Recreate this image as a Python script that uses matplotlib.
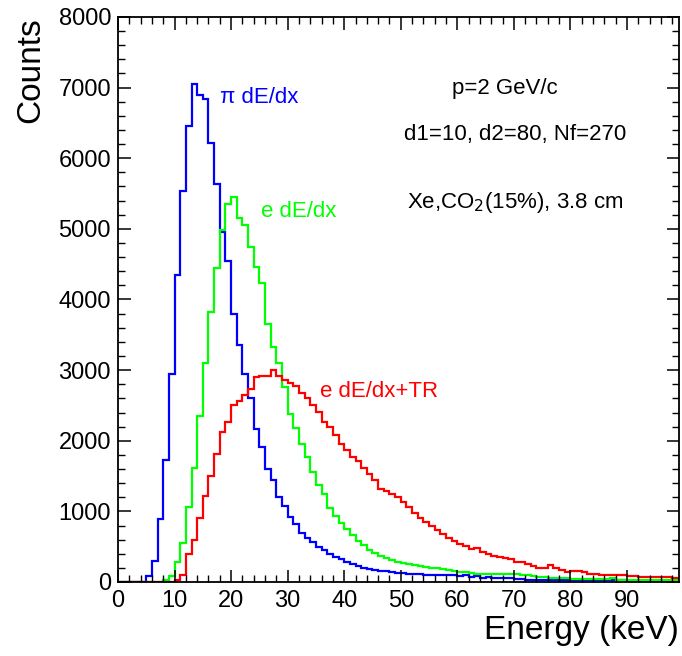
import matplotlib
matplotlib.use("Agg")
import matplotlib.pyplot as plt
import numpy as np
from matplotlib.ticker import MultipleLocator

plt.rcParams['font.family'] = ['Liberation Sans', 'DejaVu Sans']

# bin edges: 1 keV bins from 0 to 100 keV
edges = np.arange(0, 101, 1)

# pion dE/dx counts per bin (bins 0..99)
pi_dedx = [0, 0, 0, 0, 0, 80, 300, 890, 1730, 2950,
           4340, 5540, 6460, 7050, 6900, 6840, 6220, 5640, 4960, 4540,
           3790, 3360, 2940, 2610, 2160, 1910, 1600, 1450, 1200, 1080,
           915, 820, 700, 620, 570, 500, 450, 400, 360, 320,
           280, 250, 220, 200, 185, 175, 160, 150, 135, 128,
           122, 118, 112, 110, 105, 102, 100, 98, 96, 95,
           85, 105, 65, 80, 60, 70, 55, 52, 50, 50,
           48, 46, 35, 32, 30, 30, 30, 28, 28, 28,
           26, 26, 25, 25, 25, 24, 24, 22, 22, 22,
           20, 20, 20, 20, 20, 18, 18, 18, 25, 18]

# electron dE/dx
e_dedx = [0, 0, 0, 0, 0, 0, 0, 0, 30, 80,
          290, 550, 1060, 1620, 2350, 3100, 3820, 4440, 4990, 5350,
          5450, 5150, 5050, 4740, 4460, 4230, 3660, 3330, 3100, 2760,
          2380, 2180, 1960, 1770, 1560, 1370, 1250, 1050, 940, 840,
          750, 660, 580, 520, 460, 410, 370, 340, 310, 290,
          270, 250, 240, 230, 215, 205, 195, 180, 170, 160,
          140, 135, 130, 120, 120, 115, 110, 120, 115, 110,
          110, 100, 100, 90, 70, 65, 60, 55, 50, 50,
          45, 40, 40, 40, 40, 40, 40, 50, 35, 35,
          35, 35, 35, 35, 35, 30, 30, 30, 30, 30]

# electron dE/dx + TR
e_dedx_tr = [0, 0, 0, 0, 0, 0, 0, 0, 0, 0,
             30, 100, 400, 600, 900, 1220, 1500, 1810, 2120, 2260,
             2500, 2560, 2650, 2730, 2900, 2920, 2920, 3000, 2910, 2860,
             2820, 2770, 2670, 2600, 2510, 2410, 2270, 2200, 2080, 1960,
             1870, 1770, 1710, 1620, 1530, 1440, 1320, 1290, 1250, 1200,
             1130, 1060, 970, 900, 850, 790, 740, 680, 630, 580,
             540, 510, 470, 480, 420, 400, 375, 360, 340, 320,
             290, 280, 255, 225, 205, 200, 240, 200, 170, 140,
             160, 155, 140, 120, 110, 100, 100, 100, 95, 95,
             80, 80, 75, 75, 70, 70, 65, 65, 60, 60]

fig = plt.figure(figsize=(6.82, 6.56), dpi=100)
ax = fig.add_axes([118/682, 74/656, (679-118)/682, (582-17)/656])

ax.stairs(pi_dedx, edges, color='#0000ff', lw=1.6)
ax.stairs(e_dedx, edges, color='#00ff00', lw=1.6)
ax.stairs(e_dedx_tr, edges, color='#ff0000', lw=1.6)

ax.set_xlim(0, 99.2)
ax.set_ylim(0, 8000)
ax.xaxis.set_major_locator(MultipleLocator(10))
ax.xaxis.set_minor_locator(MultipleLocator(2))
ax.yaxis.set_major_locator(MultipleLocator(1000))
ax.yaxis.set_minor_locator(MultipleLocator(200))
ax.tick_params(which='both', direction='in', top=True, right=True, labelsize=17)
ax.tick_params(which='major', length=9, width=1.1)
ax.tick_params(which='minor', length=5, width=1.0)
ax.tick_params(axis='y', pad=5)
ax.tick_params(axis='x', pad=6)
for s in ax.spines.values():
    s.set_linewidth(1.3)

ax.set_ylabel('Counts', fontsize=24)
ax.yaxis.set_label_coords(-0.128, 1.0)
ax.yaxis.label.set_ha('right')
ax.set_xlabel('Energy (keV)', fontsize=24)
ax.xaxis.set_label_coords(1.0, -0.058)
ax.xaxis.label.set_ha('right')

ax.text(18.0, 6860, 'π dE/dx', color='#0000ff', fontsize=16, ha='left', va='center')
ax.text(25.3, 5250, 'e dE/dx', color='#00ff00', fontsize=16, ha='left', va='center')
ax.text(35.8, 2700, 'e dE/dx+TR', color='#ff0000', fontsize=16, ha='left', va='center')

ax.text(68.4, 6990, 'p=2 GeV/c', fontsize=16, ha='center', va='center')
ax.text(70.3, 6330, 'd1=10, d2=80, Nf=270', fontsize=16, ha='center', va='center')
ax.text(70.3, 5380, r'Xe,CO$_2$(15%), 3.8 cm', fontsize=16, ha='center', va='center',
        math_fontfamily='custom')

fig.savefig('out.png', dpi=100)
